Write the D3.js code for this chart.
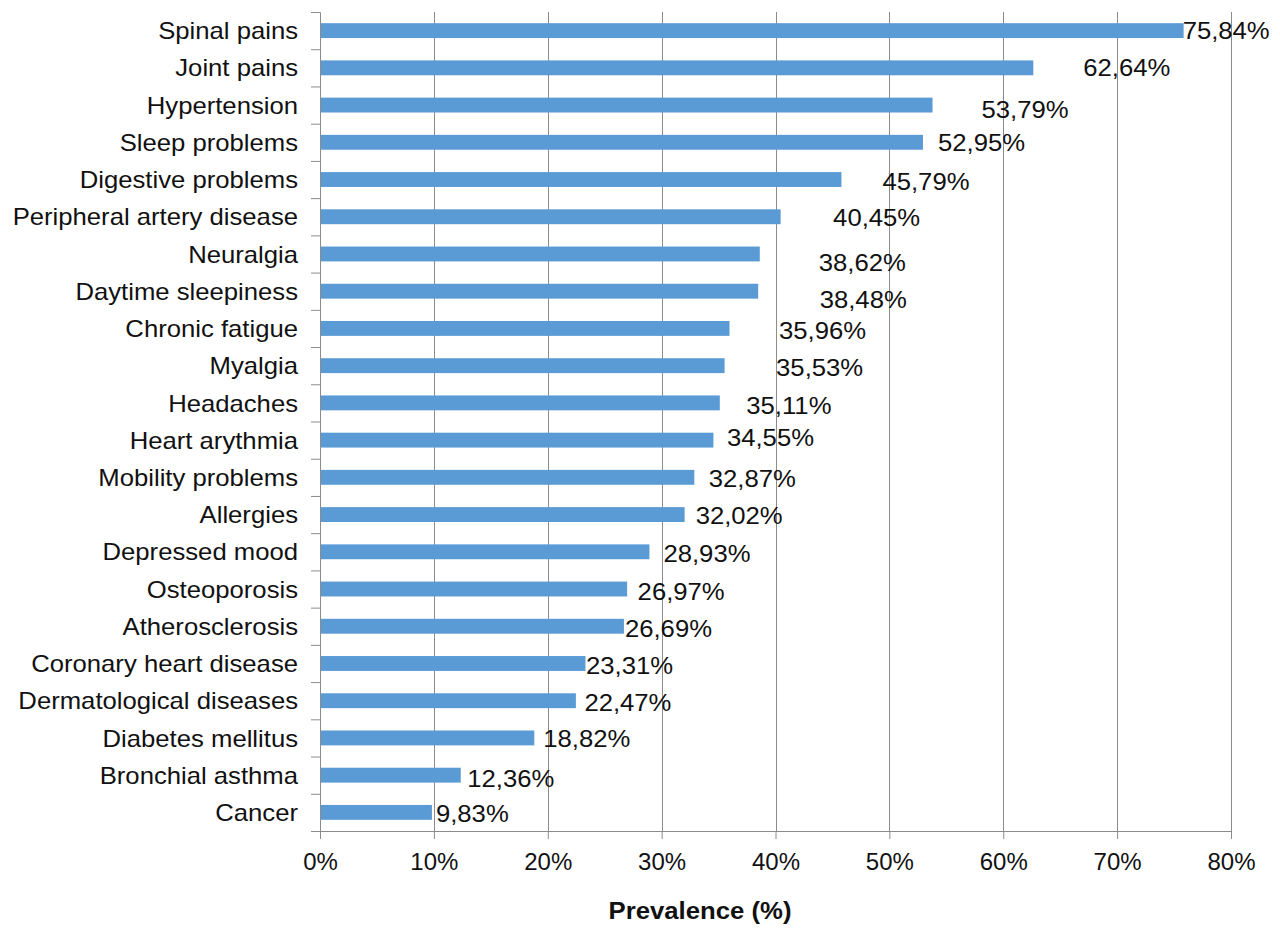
<!DOCTYPE html>
<html>
<head>
<meta charset="utf-8">
<script src="https://cdn.jsdelivr.net/npm/d3@7"></script>
<style>
  body { margin: 0; background: #fff; }
  svg { display: block; background: #fff; }
  text { font-family: "Liberation Sans", Arial, Helvetica, sans-serif; fill: #111; }
</style>
</head>
<body>
<svg id="chart" width="1280" height="933"></svg>
<script>
// Self-reported conditions, ordered from most to least prevalent
const conditions = [
  "Spinal pains", "Joint pains", "Hypertension", "Sleep problems",
  "Digestive problems", "Peripheral artery disease", "Neuralgia",
  "Daytime sleepiness", "Chronic fatigue", "Myalgia", "Headaches",
  "Heart arythmia", "Mobility problems", "Allergies", "Depressed mood",
  "Osteoporosis", "Atherosclerosis", "Coronary heart disease",
  "Dermatological diseases", "Diabetes mellitus", "Bronchial asthma", "Cancer"
];

// Prevalence in percent
const prevalence = [
  75.84, 62.64, 53.79, 52.95, 45.79, 40.45, 38.62, 38.48, 35.96, 35.53, 35.11,
  34.55, 32.87, 32.02, 28.93, 26.97, 26.69, 23.31, 22.47, 18.82, 12.36, 9.83
];

// Axis ticks
const tickValues = [0, 10, 20, 30, 40, 50, 60, 70, 80];
const tickLabels = ["0%", "10%", "20%", "30%", "40%", "50%", "60%", "70%", "80%"];

const axisTitle = "Prevalence (%)";

// Hand-placed offsets of the value labels from the bar end [dx, dy], in px
const labelNudge = [
  [-1, 0], [50, 0], [49, 4.5], [15, 0], [41, 1.5], [52.5, 1], [59, 8],
  [61.5, 8], [49.5, 2], [51.5, 1.5], [26.5, 2], [13.5, -3], [14.5, 1],
  [11, 0.5], [14, 1.5], [10.5, 2.5], [1, 2.5], [0.5, 1.5], [8.5, 1.5],
  [9, 0], [6.5, 3], [4, 0.5]
];

// ---- layout ----
const plot = { left: 320, right: 1231, top: 12, bottom: 831 };
const FONT = 24;
const STRETCH = 1.07;   // slightly wide lettering
const GRID = "#8c8c8c";
const BAR = "#5b9bd5";

const svg = d3.select("#chart");

const x = d3.scaleLinear().domain([0, 80]).range([plot.left, plot.right]);
const y = d3.scaleBand().domain(conditions)
  .range([plot.top, plot.bottom]).paddingInner(0.6).paddingOuter(0.3);
const slot = d3.scaleLinear().domain([0, conditions.length])
  .range([plot.top, plot.bottom]);

const fmt = v => d3.format(".2f")(v).replace(".", ",") + "%";

// vertical gridlines
svg.append("g").selectAll("line").data(tickValues.slice(1)).join("line")
  .attr("x1", d => Math.round(x(d)) + 0.5).attr("x2", d => Math.round(x(d)) + 0.5)
  .attr("y1", plot.top).attr("y2", plot.bottom)
  .attr("stroke", GRID).attr("stroke-width", 1);

// bars
svg.append("g").selectAll("rect").data(conditions).join("rect")
  .attr("x", x(0))
  .attr("y", d => y(d))
  .attr("width", (d, i) => x(prevalence[i]) - x(0))
  .attr("height", y.bandwidth())
  .attr("fill", BAR);

// category axis: tick marks between the bars
const yTicks = svg.append("g").attr("transform", `translate(${plot.left},0)`)
  .call(d3.axisLeft(slot).tickValues(d3.range(conditions.length + 1))
    .tickSize(9).tickFormat(""));
yTicks.selectAll("line, path").attr("stroke", GRID);

// category labels
const yLabels = svg.append("g").attr("transform", `translate(${plot.left},0)`)
  .call(d3.axisLeft(y).tickSize(0).tickPadding(0));
yLabels.select(".domain").remove();
yLabels.selectAll("text")
  .attr("x", -22 / STRETCH).attr("dy", "0.36em")
  .attr("transform", `scale(${STRETCH},1)`)
  .style("font-size", FONT + "px").style("fill", "#111");

// value axis
const xAxis = svg.append("g").attr("transform", `translate(0,${plot.bottom})`)
  .call(d3.axisBottom(x).tickValues(tickValues).tickSize(8).tickPadding(14)
    .tickFormat((d, i) => tickLabels[i]));
xAxis.selectAll("line, path").attr("stroke", GRID);
xAxis.selectAll("text").style("font-size", FONT + "px").style("fill", "#111");

// value labels
svg.append("g").selectAll("text").data(conditions).join("text")
  .attr("transform", (d, i) =>
    `translate(${x(prevalence[i]) + labelNudge[i][0]},${y(d) + y.bandwidth() / 2 + labelNudge[i][1]}) scale(${STRETCH},1)`)
  .attr("dy", "0.36em")
  .style("font-size", FONT + "px")
  .text((d, i) => fmt(prevalence[i]));

// axis title
svg.append("text")
  .attr("x", 700).attr("y", 919)
  .attr("text-anchor", "middle")
  .attr("textLength", 183).attr("lengthAdjust", "spacingAndGlyphs")
  .style("font-size", "23px").style("font-weight", "bold")
  .text(axisTitle);
</script>
</body>
</html>
